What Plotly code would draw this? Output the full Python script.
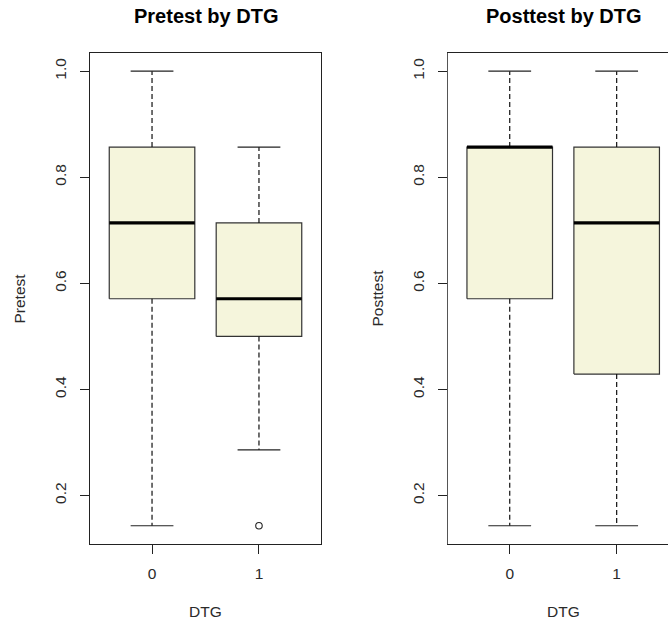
import plotly.graph_objects as go

# DTG groups and five-number summaries (scores are fractions of 7 items)
groups = ["0", "1"]

pre_lower = [0.143, 0.286]
pre_q1 = [0.571, 0.500]
pre_median = [0.714, 0.571]
pre_q3 = [0.857, 0.714]
pre_upper = [1.000, 0.857]
pre_outliers = [[], [0.143]]

post_lower = [0.143, 0.143]
post_q1 = [0.571, 0.429]
post_median = [0.857, 0.714]
post_q3 = [0.857, 0.857]
post_upper = [1.000, 1.000]
post_outliers = [[], []]

y_ticks = [0.2, 0.4, 0.6, 0.8, 1.0]

W, H = 668, 621
FONT = "Liberation Sans, Arial, sans-serif"
BOX_FILL = "#F5F5DC"
BOX_LINE = "#333333"
HALF_BOX = 0.4
HALF_STAPLE = 0.2

fig = go.Figure()


def add_panel(xa, ya, lower, q1, med, q3, upper, outliers):
    for i, _ in enumerate(groups):
        pos = i + 1
        # box body
        fig.add_trace(go.Scatter(
            x=[pos - HALF_BOX, pos + HALF_BOX, pos + HALF_BOX, pos - HALF_BOX, pos - HALF_BOX],
            y=[q1[i], q1[i], q3[i], q3[i], q1[i]],
            mode="lines", fill="toself", fillcolor=BOX_FILL,
            line=dict(color=BOX_LINE, width=1.2),
            xaxis=xa, yaxis=ya, hoverinfo="skip"))
        # dashed whiskers
        for a, b in ((q3[i], upper[i]), (q1[i], lower[i])):
            fig.add_trace(go.Scatter(
                x=[pos, pos], y=[a, b], mode="lines",
                line=dict(color="#111111", width=1.2, dash="5px,3px"),
                xaxis=xa, yaxis=ya, hoverinfo="skip"))
        # staples
        for v in (upper[i], lower[i]):
            fig.add_trace(go.Scatter(
                x=[pos - HALF_STAPLE, pos + HALF_STAPLE], y=[v, v], mode="lines",
                line=dict(color="#222222", width=1.2),
                xaxis=xa, yaxis=ya, hoverinfo="skip"))
        # median
        fig.add_trace(go.Scatter(
            x=[pos - HALF_BOX, pos + HALF_BOX], y=[med[i], med[i]], mode="lines",
            line=dict(color="#000000", width=3.2),
            xaxis=xa, yaxis=ya, hoverinfo="skip"))
        # outliers
        if outliers[i]:
            fig.add_trace(go.Scatter(
                x=[pos] * len(outliers[i]), y=outliers[i], mode="markers",
                marker=dict(symbol="circle-open", size=6.5, color="#222222",
                            line=dict(width=1.1)),
                xaxis=xa, yaxis=ya, hoverinfo="skip"))


add_panel("x", "y", pre_lower, pre_q1, pre_median, pre_q3, pre_upper, pre_outliers)
add_panel("x2", "y2", post_lower, post_q1, post_median, post_q3, post_upper, post_outliers)


def px_x(p):
    return p / W


def px_y(p):
    return 1 - p / H


left_dom = [px_x(90), px_x(321)]
right_dom = [px_x(447.7), 1.0]
y_dom = [px_y(544), px_y(53)]

x_range = [0.42, 2.58]
x2_range = [0.42, 0.42 + (W - 447.7) / (321 - 90) * 2.16]
y_range = [0.1086, 1.0343]

tick_font = dict(family=FONT, size=15.5, color="#2a2a2a")

xaxis_common = dict(
    tickvals=[1, 2], ticktext=groups, ticks="outside", ticklen=9,
    tickcolor="#222222", tickfont=tick_font, showgrid=False, zeroline=False,
    showline=True, linecolor="#222222", linewidth=1, mirror=True,
    ticklabelstandoff=6, fixedrange=True,
)
yaxis_common = dict(
    range=y_range, domain=y_dom, tickvals=y_ticks,
    ticktext=[f"{v:.1f}" for v in y_ticks], ticks="outside", ticklen=9,
    tickcolor="#222222", tickfont=tick_font, tickangle=-90, showgrid=False,
    zeroline=False, showline=True, linewidth=1, ticklabelstandoff=8,
    fixedrange=True,
)

fig.update_layout(
    width=W, height=H,
    margin=dict(l=0, r=0, t=0, b=0),
    paper_bgcolor="white", plot_bgcolor="white",
    showlegend=False,
    font=dict(family=FONT, color="#222222"),
    xaxis=dict(domain=left_dom, range=x_range, anchor="y", **xaxis_common),
    xaxis2=dict(domain=right_dom, range=x2_range, anchor="y2", **xaxis_common),
    yaxis=dict(anchor="x", linecolor="#222222", mirror=True, **yaxis_common),
    yaxis2=dict(anchor="x2", linecolor="#555555", mirror=False, **yaxis_common),
)

annotations = [
    dict(text="<b>Pretest by DTG</b>", x=px_x(205.5), y=px_y(16),
         font=dict(size=20, color="#000000")),
    dict(text="<b>Posttest by DTG</b>", x=px_x(563.5), y=px_y(16),
         font=dict(size=20, color="#000000")),
    dict(text="DTG", x=px_x(205.5), y=px_y(611), font=dict(size=15.5)),
    dict(text="DTG", x=px_x(563.5), y=px_y(611), font=dict(size=15.5)),
    dict(text="Pretest", x=px_x(19), y=px_y(298.5), textangle=-90,
         font=dict(size=15.5)),
    dict(text="Posttest", x=px_x(377), y=px_y(298.5), textangle=-90,
         font=dict(size=15.5)),
]
for a in annotations:
    a.update(xref="paper", yref="paper", showarrow=False,
             xanchor="center", yanchor="middle")
    a["font"].setdefault("family", FONT)
    a["font"].setdefault("color", "#2a2a2a")
fig.update_layout(annotations=annotations)

fig.write_html("out.html")
